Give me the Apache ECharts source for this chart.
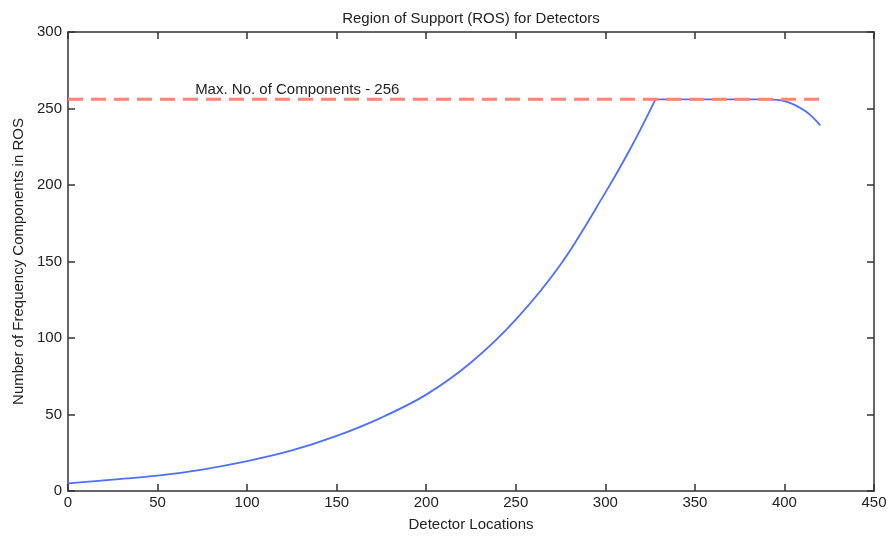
<!DOCTYPE html>
<html>
<head>
<meta charset="utf-8">
<script src="https://cdn.jsdelivr.net/npm/echarts@6/dist/echarts.min.js"></script>
<style>html,body{margin:0;padding:0;background:#fff}#c{width:891px;height:537px}</style>
</head>
<body>
<div id="c"></div>
<script>
var titleText = "Region of Support (ROS) for Detectors";
var xName = "Detector Locations";
var yName = "Number of Frequency Components in ROS";
var maxLabel = "Max. No. of Components - 256";
var maxValue = 256;
// rising part of the ROS curve
var riseX = [0, 25, 50, 75, 100, 125, 150, 175, 200, 225, 250, 275, 300, 315, 328];
var riseY = [5, 7.5, 10, 14, 19.5, 26.5, 36, 48, 63, 84, 112, 148, 195, 226, 256];
// plateau and roll-off
var tailX = [328, 350, 375, 390, 401, 412, 420];
var tailY = [256, 256, 256, 256, 254.5, 248, 239];
var maxLineX = [0, 420];
var labelX = 128;

var rise = riseX.map(function (x, i) { return [x, riseY[i]]; });
var tail = tailX.map(function (x, i) { return [x, tailY[i]]; });
var maxLine = maxLineX.map(function (x) { return [x, maxValue]; });

var font = "Liberation Sans";
var txt = "#222";
var fs = 15;
var blue = '#4f70ff';
var chart = echarts.init(document.getElementById('c'), null, {renderer: 'canvas'});
var axisCommon = {
  axisLine: {show: true, onZero: false, lineStyle: {color: '#333', width: 1.5}},
  axisTick: {show: true, inside: true, length: 7, lineStyle: {color: '#333', width: 1.5}},
  splitLine: {show: false}
};
chart.setOption({
  animation: false,
  backgroundColor: '#fff',
  title: {text: titleText, left: 466, top: 6, textAlign: 'center',
    textStyle: {fontFamily: font, fontSize: fs, fontWeight: 'normal', color: txt}},
  grid: {left: 68, right: 17, top: 32, bottom: 46},
  xAxis: [
    Object.assign({type: 'value', min: 0, max: 450, interval: 50, position: 'bottom',
      name: xName, nameLocation: 'middle', nameGap: 26,
      nameTextStyle: {fontFamily: font, fontSize: fs, color: txt},
      axisLabel: {fontFamily: font, fontSize: fs, color: txt, margin: 4}}, axisCommon),
    Object.assign({type: 'value', min: 0, max: 450, interval: 50, position: 'top',
      axisLabel: {show: false}}, axisCommon)
  ],
  yAxis: [
    Object.assign({type: 'value', min: 0, max: 300, interval: 50, position: 'left',
      name: yName, nameLocation: 'middle', nameGap: 42,
      nameTextStyle: {fontFamily: font, fontSize: fs, color: txt},
      axisLabel: {fontFamily: font, fontSize: fs, color: txt, margin: 6}}, axisCommon),
    Object.assign({type: 'value', min: 0, max: 300, interval: 50, position: 'right',
      axisLabel: {show: false}}, axisCommon)
  ],
  series: [
    {type: 'line', data: rise, symbol: 'none', smooth: 0.35, silent: true,
      lineStyle: {color: blue, width: 1.8}},
    {type: 'line', data: tail, symbol: 'none', smooth: 0.35, silent: true,
      lineStyle: {color: blue, width: 1.8}},
    {type: 'line', data: maxLine, symbol: 'none', silent: true,
      lineStyle: {color: '#f98672', width: 3, type: [15, 8]},
      markPoint: {symbol: 'circle', symbolSize: 0,
        data: [{coord: [labelX, maxValue], value: maxLabel}],
        label: {show: true, formatter: maxLabel, position: 'top', distance: 2,
          fontFamily: font, fontSize: fs, color: txt}}}
  ]
});
</script>
</body>
</html>
